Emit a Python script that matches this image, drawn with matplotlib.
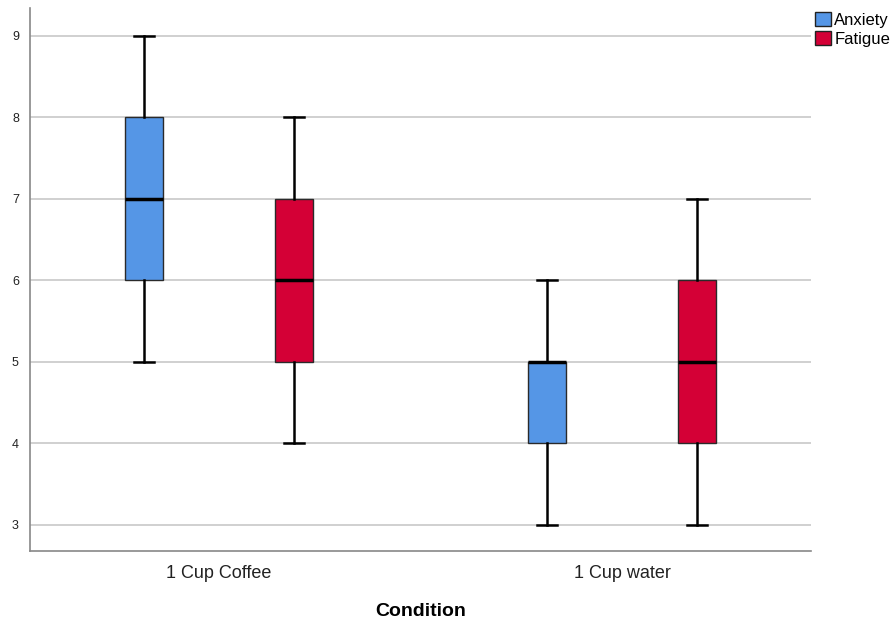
import matplotlib
matplotlib.use("Agg")
import matplotlib.pyplot as plt
from matplotlib.patches import Patch

plt.rcParams['font.family'] = ['Liberation Sans', 'DejaVu Sans']

categories = ["1 Cup Coffee", "1 Cup water"]
series = ["Anxiety", "Fatigue"]
# per series: values for [coffee, water]
whislo = {"Anxiety": [5, 3], "Fatigue": [4, 3]}
q1 = {"Anxiety": [6, 4], "Fatigue": [5, 4]}
med = {"Anxiety": [7, 5], "Fatigue": [6, 5]}
q3 = {"Anxiety": [8, 5], "Fatigue": [7, 6]}
whishi = {"Anxiety": [9, 6], "Fatigue": [8, 7]}
colors = {"Anxiety": "#5596E6", "Fatigue": "#D40036"}
yticks = [3, 4, 5, 6, 7, 8, 9]

fig = plt.figure(figsize=(8.91, 6.22), dpi=100)
ax = fig.add_axes([30/891, 1-551/622, 781/891, 543/622])

offsets = {"Anxiety": -0.186, "Fatigue": 0.186}
for s in series:
    stats = []
    for i in range(len(categories)):
        stats.append(dict(med=med[s][i], q1=q1[s][i], q3=q3[s][i],
                          whislo=whislo[s][i], whishi=whishi[s][i], fliers=[]))
    pos = [i + offsets[s] for i in range(len(categories))]
    ax.bxp(stats, positions=pos, widths=0.094, patch_artist=True,
           showfliers=False, manage_ticks=False,
           boxprops=dict(facecolor=colors[s], edgecolor="#2a2a2a", linewidth=1.0),
           medianprops=dict(color="black", linewidth=2.5),
           whiskerprops=dict(color="black", linewidth=1.8),
           capprops=dict(color="black", linewidth=1.8),
           capwidths=0.048, zorder=3)

ax.set_xlim(-0.469, 1.469)
ax.set_ylim(2.68, 9.34)
ax.set_yticks(yticks)
ax.set_yticklabels([str(v) for v in yticks], fontsize=9, color="#222222")
ax.set_xticks(range(len(categories)))
ax.set_xticklabels(categories, fontsize=13, color="#222222")
ax.tick_params(length=0, pad=8)
ax.tick_params(axis="x", pad=10)
ax.yaxis.grid(True, color="#C8C8C8", linewidth=1.2, zorder=0)
ax.set_axisbelow(True)
for sp in ["top", "right"]:
    ax.spines[sp].set_visible(False)
for sp in ["left", "bottom"]:
    ax.spines[sp].set_color("#888888")
    ax.spines[sp].set_linewidth(1.2)
ax.set_xlabel("Condition", fontsize=14, fontweight="bold", labelpad=15)

handles = [Patch(facecolor=colors[s], edgecolor="#222222", label=s) for s in series]
fig.legend(handles=handles, loc="upper left", bbox_to_anchor=(805/891, 0.997),
           frameon=False, fontsize=12, handlelength=0.95, handleheight=0.95,
           handletextpad=0.2, labelspacing=0.2, borderaxespad=0.4, borderpad=0.2)

fig.savefig("out.png", dpi=100)
